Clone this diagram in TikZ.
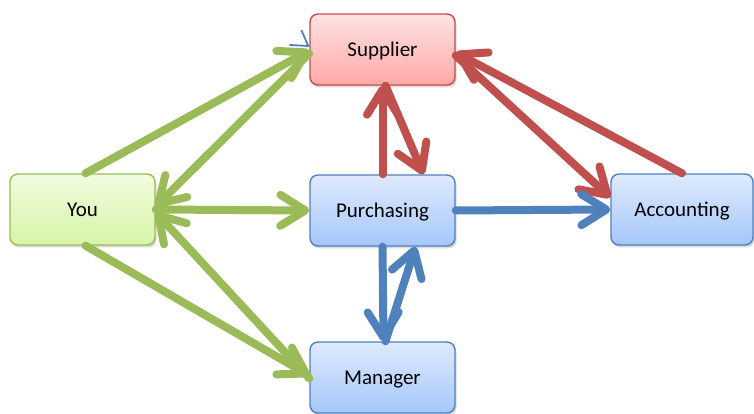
\documentclass[tikz,border=0pt]{standalone}
\usepackage{fontspec}
\setmainfont{Carlito}
\usetikzlibrary{arrows.meta,shadows}
\definecolor{grn}{RGB}{155,187,89}
\definecolor{rd}{RGB}{192,80,77}
\definecolor{bl}{RGB}{79,129,189}
\definecolor{redtop}{RGB}{255,226,226}
\definecolor{redbot}{RGB}{255,168,168}
\definecolor{bluetop}{RGB}{222,234,253}
\definecolor{bluebot}{RGB}{166,199,250}
\definecolor{grntop}{RGB}{241,252,222}
\definecolor{grnbot}{RGB}{214,244,168}
\tikzset{
  box/.style={rounded corners=8pt, minimum width=145pt, minimum height=71pt,
    line width=1.4pt, font=\fontsize{21}{25}\selectfont, inner sep=0pt,
    text height=16pt, text depth=2pt,
    drop shadow={shadow xshift=1.5pt, shadow yshift=-2.5pt, opacity=0.25, fill=black!60}},
  redbox/.style={box, draw=rd, top color=redtop, bottom color=redbot},
  bluebox/.style={box, draw=bl, top color=bluetop, bottom color=bluebot},
  grnbox/.style={box, draw=grn, top color=grntop, bottom color=grnbot},
  conn/.style={line width=8pt, line cap=round,
    -{Straight Barb[length=25pt,width=31pt,round]}},
  gconn/.style={conn, draw=grn},
  rconn/.style={conn, draw=rd},
  bconn/.style={conn, draw=bl},
}
\begin{document}
\begin{tikzpicture}[x=1pt,y=1pt]
\useasboundingbox (0,0) rectangle (754,414);
\node[redbox]  (sup) at (382.5,364.5) {Supplier};
\node[bluebox] (pur) at (382.5,203.5) {Purchasing};
\node[bluebox] (man) at (382.5,36.5)  {Manager};
\node[grnbox]  (you) at (82.5,204.5)  {You};
\node[bluebox, minimum width=142pt] (acc) at (682,204.5) {Accounting};
% green
\draw[gconn] ([xshift=3pt]you.north) -- ([yshift=-1pt]sup.west);
\draw[gconn] ([yshift=-4pt]sup.west) -- ([yshift=3pt]you.east);
\draw[gconn] (you.east) -- (pur.west);
\draw[gconn] ([xshift=3pt]you.south) -- ([yshift=2pt]man.west);
\draw[gconn] ([yshift=-1pt]man.west) -- ([yshift=-3pt]you.east);
% red
\draw[rconn] (pur.north) -- (sup.south);
\draw[rconn] ([xshift=3pt]sup.south) -- ([xshift=41pt]pur.north);
\draw[rconn] (acc.north) -- ([yshift=-3pt]sup.east);
\draw[rconn] ([yshift=-6pt]sup.east) -- ([yshift=12pt]acc.west);
% blue
\draw[bconn] (pur.east) -- (acc.west);
\draw[bconn] (pur.south) -- ([xshift=1pt]man.north);
\draw[bconn] ([xshift=3pt]man.north) -- ([xshift=33pt]pur.south);
% small stray blue mark
\coordinate (mk) at ([xshift=-1pt,yshift=3.5pt]sup.west);
\draw[bl, line width=1.8pt] ([xshift=-7pt,yshift=16pt]mk) -- (mk) -- ([xshift=-19pt,yshift=1pt]mk);
\end{tikzpicture}
\end{document}
